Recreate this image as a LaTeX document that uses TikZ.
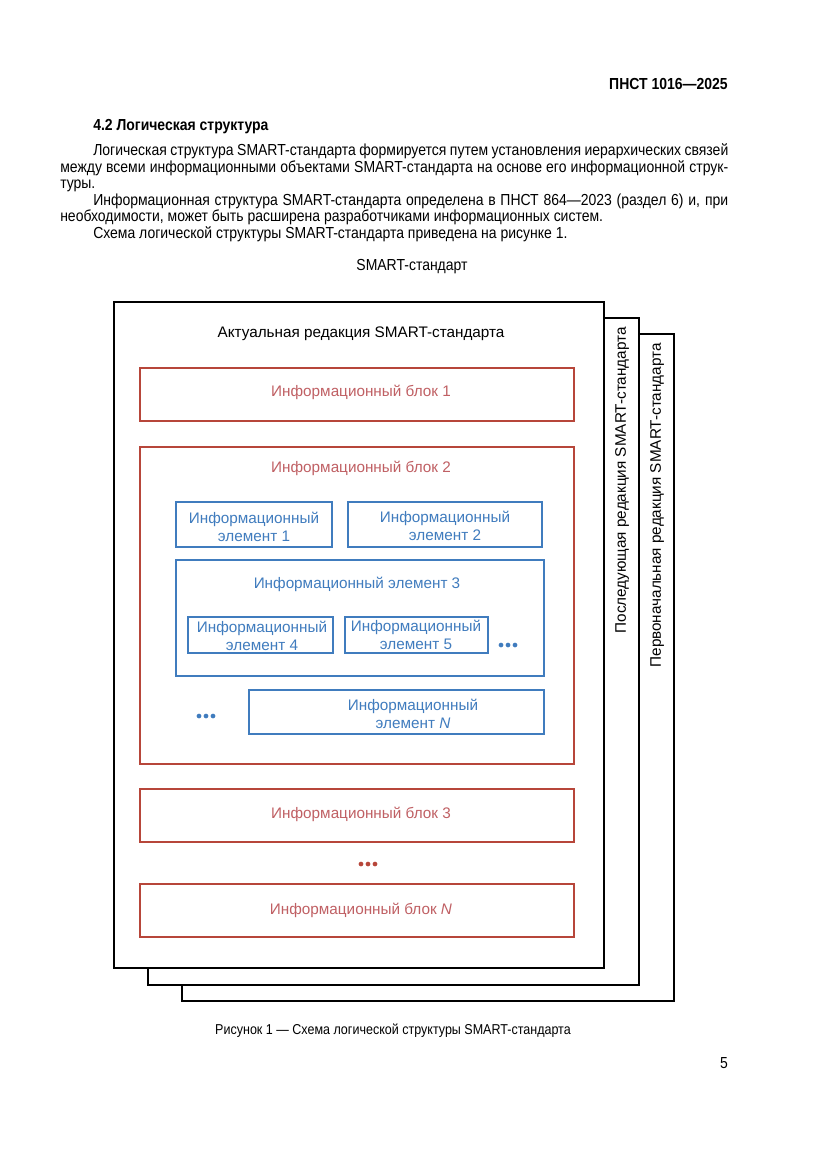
\documentclass[tikz,border=0pt]{standalone}
\usepackage{fontspec}
\setmainfont{Liberation Sans}
\newfontfamily\narrow[FakeStretch=0.875]{Liberation Sans}
\definecolor{rb}{RGB}{183,70,58}
\definecolor{rt}{RGB}{192,96,100}
\definecolor{bl}{RGB}{64,124,190}
\newcommand\pxbox[6]{\node[#6, minimum width={(#4-#2)*0.7198pt}, minimum height={(#5-#3)*0.7198pt}] (#1) at ({(#2+#4)/2},{(#3+#5)/2}) {};}
\newcommand\threedots[3]{\foreach \dx in {-7,0,7}{\fill[#3] (#1+\dx,#2) circle (1.7pt);}}
\begin{document}
\begin{tikzpicture}[x=0.7198pt,y=-0.7198pt,
  txt/.style={inner sep=0pt, font=\narrow\fontsize{11.5}{13}\selectfont},
  btitle/.style={inner sep=0pt, font=\narrow\bfseries\fontsize{11.5}{13}\selectfont},
  dtxt/.style={inner sep=0pt, font=\fontsize{11}{13}\selectfont},
  rtxt/.style={dtxt, text=rt},
  btxt/.style={dtxt, text=bl, align=center},
  page/.style={draw=black, line width=1.8pt, fill=white, inner sep=0pt},
  rbox/.style={draw=rb, line width=1.4pt, inner sep=0pt},
  bbox/.style={draw=bl, line width=1.4pt, inner sep=0pt}]
\useasboundingbox[fill=white] (0,0) rectangle (827,1169);
% header and text
\node[btitle, anchor=base east] (hdr) at (728,89) {ПНСТ 1016—2025};
\node[btitle, anchor=base west] (sec) at (93,130) {4.2 Логическая структура};
\node[txt, anchor=base west] (p1) at (93,155) {\makebox[457.1pt][s]{Логическая структура SMART-стандарта формируется путем установления иерархических связей}};
\node[txt, anchor=base west] (p2) at (60,172) {\makebox[480.8pt][s]{между всеми информационными объектами SMART-стандарта на основе его информационной струк-}};
\node[txt, anchor=base west] (p3) at (60,188) {туры.};
\node[txt, anchor=base west] (p4) at (93,205) {\makebox[457.1pt][s]{Информационная структура SMART-стандарта определена в ПНСТ 864—2023 (раздел 6) и, при}};
\node[txt, anchor=base west] (p5) at (60,221) {необходимости, может быть расширена разработчиками информационных систем.};
\node[txt, anchor=base west] (p6) at (93,238) {Схема логической структуры SMART-стандарта приведена на рисунке 1.};
\node[txt] (smart) at (412,267) {SMART-стандарт};
% edition pages
\pxbox{ed3}{182}{334}{674}{1001}{page}
\pxbox{ed2}{148}{318}{639}{985}{page}
\pxbox{ed1}{114}{302}{604}{968}{page}
\node[dtxt, rotate=90, anchor=east] (l2) at (622,327) {Последующая редакция SMART-стандарта};
\node[dtxt, rotate=90, anchor=east] (l3) at (657,343) {Первоначальная редакция SMART-стандарта};
\node[dtxt] (t1) at (361,334) {Актуальная редакция SMART-стандарта};
% blocks
\pxbox{b1}{140}{368}{574}{421}{rbox}
\node[rtxt] (b1t) at (361,392) {Информационный блок 1};
\pxbox{b2}{140}{447}{574}{764}{rbox}
\node[rtxt] (b2t) at (361,468) {Информационный блок 2};
\pxbox{e1}{176}{502}{332}{547}{bbox}
\node[btxt] (e1t) at (254,527) {Информационный\\элемент 1};
\pxbox{e2}{348}{502}{542}{547}{bbox}
\node[btxt] (e2t) at (445,526) {Информационный\\элемент 2};
\pxbox{e3}{176}{560}{544}{676}{bbox}
\node[btxt] (e3t) at (357,584) {Информационный элемент 3};
\pxbox{e4}{188}{617}{333}{653}{bbox}
\node[btxt] (e4t) at (262,636) {Информационный\\элемент 4};
\pxbox{e5}{345}{617}{488}{653}{bbox}
\node[btxt] (e5t) at (416,635) {Информационный\\элемент 5};
\threedots{508}{645}{bl}
\pxbox{eN}{249}{690}{544}{734}{bbox}
\node[btxt] (eNt) at (413,714) {Информационный\\элемент \textit{N}};
\threedots{206}{716}{bl}
\pxbox{b3}{140}{789}{574}{842}{rbox}
\node[rtxt] (b3t) at (361,814) {Информационный блок 3};
\threedots{368}{864}{rb}
\pxbox{bN}{140}{884}{574}{937}{rbox}
\node[rtxt] (bNt) at (361,910) {Информационный блок \textit{N}};
% caption
\node[txt, font=\narrow\fontsize{10.3}{12}\selectfont] (cap) at (393,1031) {Рисунок 1 — Схема логической структуры SMART-стандарта};
\node[txt] (pn) at (724,1063) {5};
\end{tikzpicture}
\end{document}
